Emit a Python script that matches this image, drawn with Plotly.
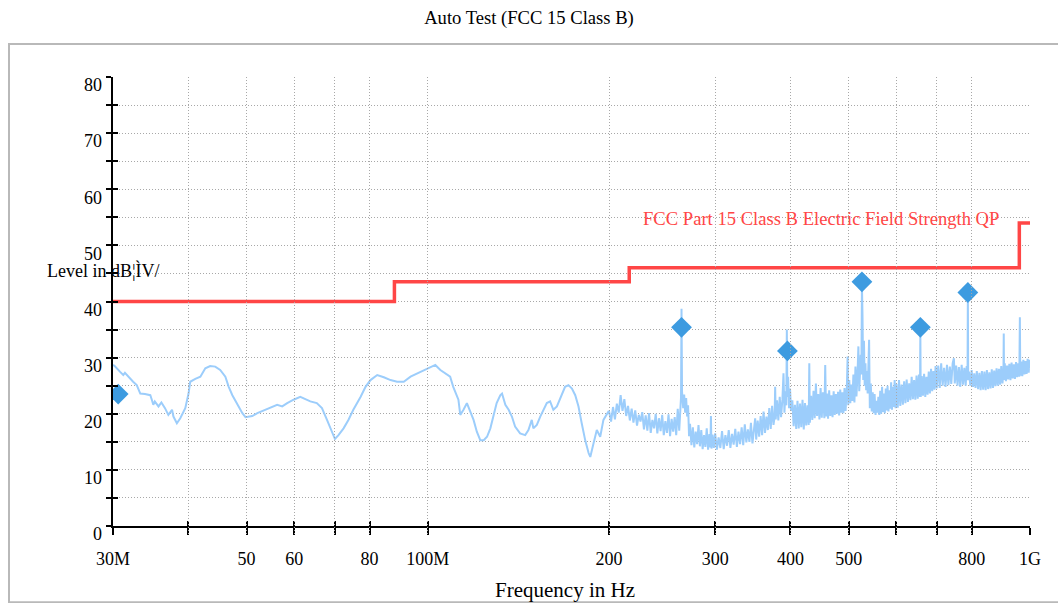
import math
import plotly.graph_objects as go

# ---------------- text ----------------
TITLE = "Auto Test (FCC 15 Class B)"
X_TITLE = "Frequency in Hz"
Y_TITLE = "Level in dB¦ÌV/"
LIMIT_NAME = "FCC Part 15 Class B Electric Field Strength QP"

# ---------------- data (frequency in MHz, level in dBµV/m) ----------------
scan_30_110 = [
    (30.0, 28.7), (30.2, 28.5), (30.8, 27.5), (31.2, 26.9), (31.4, 27.3), (31.8, 26.6),
    (32.4, 25.7), (32.85, 25.1), (33.3, 23.6), (33.9, 23.5), (34.6, 23.3), (34.8, 22.5),
    (35.0, 21.6), (35.2, 22.2), (35.7, 21.3), (36.1, 22.0), (36.6, 21.0), (37.07, 19.8),
    (37.6, 20.7), (37.8, 19.5), (38.3, 18.3), (38.8, 19.2), (39.55, 21.0), (40.05, 23.6),
    (40.3, 25.7), (41.1, 26.2), (41.9, 26.6), (42.7, 28.1), (43.5, 28.5), (44.35, 28.4),
    (45.2, 27.8), (46.1, 26.6), (46.7, 24.8), (47.35, 23.3), (48.3, 21.6), (49.2, 20.1),
    (49.8, 19.4), (51.1, 19.6), (52.1, 20.1), (53.5, 20.6), (54.8, 21.0), (56.2, 21.6),
    (57.3, 21.3), (58.4, 21.9), (59.85, 22.5), (61.4, 23.0), (62.6, 22.6), (63.8, 22.2),
    (65.4, 21.9), (66.7, 21.0), (68.0, 18.9), (69.3, 16.8), (70.1, 15.5), (71.05, 16.2),
    (72.45, 17.4), (73.8, 18.9), (75.2, 20.7), (77.3, 23.0), (78.8, 24.8), (80.3, 26.0),
    (82.4, 26.9), (84.5, 26.5), (86.7, 26.0), (88.9, 25.7), (91.2, 25.7), (93.6, 26.6),
    (96.0, 27.2), (97.8, 27.5), (100.2, 28.1), (102.9, 28.7), (104.9, 27.8), (106.9, 27.2),
    (108.9, 26.6),
]
scan_110_200 = [
    (110.2, 24.8), (111.7, 23.0), (112.4, 22.5), (113.2, 19.8), (114.6, 20.7), (116.1, 21.9),
    (117.6, 20.4), (119.1, 18.9), (120.6, 16.8), (122.2, 15.3), (123.8, 15.3), (125.4, 15.9),
    (127.0, 17.4), (128.4, 19.5), (130.1, 21.9), (131.9, 23.3), (132.8, 23.6), (134.5, 21.6),
    (136.2, 20.7), (137.9, 19.5), (139.6, 17.7), (142.3, 16.5), (145.1, 16.2), (146.9, 17.1),
    (148.8, 18.9), (149.7, 17.4), (151.7, 18.0), (153.7, 19.5), (155.6, 20.7), (157.6, 21.9),
    (159.6, 22.2), (161.6, 20.7), (163.8, 21.3), (167.0, 23.6), (169.0, 24.8), (171.2, 25.1),
    (173.5, 24.5), (175.7, 23.3), (177.9, 21.3), (180.1, 18.3), (182.5, 15.3), (184.9, 13.0),
    (186.1, 12.3), (188.4, 14.7), (190.8, 17.1), (193.3, 15.9), (195.7, 18.9), (199.5, 20.4),
]
scan_200_300 = [
    (200, 20.4), (201.5, 18.6), (203, 21.2), (204.5, 19.0), (206, 21.8), (207.5, 20.2),
    (209, 23.3), (210.5, 20.5), (212, 22.6), (213.5, 19.6), (215, 21.4), (216.5, 18.8),
    (218, 20.9), (219.5, 18.4), (221, 20.6), (222.5, 17.9), (224, 19.8), (225.5, 18.6),
    (227, 20.3), (228.5, 17.2), (230, 19.7), (231.5, 17.0), (233, 20.1), (234.5, 16.6),
    (236, 18.9), (237.5, 17.4), (239, 20.0), (240.5, 16.5), (242, 19.2), (243.5, 16.9),
    (245, 19.8), (246.5, 16.2), (248, 18.7), (249.5, 16.6), (251, 19.9), (252.5, 16.0),
    (254, 19.1), (255.5, 16.8), (257, 19.4), (258.5, 16.2), (260, 20.9), (261.5, 17.0),
    (262.6, 21.5), (263.3, 23.0), (263.8, 38.7), (264.3, 24.0), (265.5, 21.0), (266.5, 23.4),
    (267.5, 20.2), (268.5, 22.8), (269.5, 19.5), (270.5, 21.5), (271.5, 16.0), (272.5, 18.2),
    (274, 14.4), (275.5, 17.6), (277, 14.0), (278.5, 16.8), (280, 14.6), (281.5, 18.0),
    (283, 14.2), (284.5, 17.1), (286, 13.7), (287.5, 16.2), (289, 14.1), (290.5, 17.4),
    (292, 13.6), (293.5, 16.4), (294.6, 14.0), (295.2, 19.6), (295.8, 13.8), (297, 16.3),
    (298.5, 13.9),
]
scan_300_500 = [
    (300, 16.5), (302, 13.6), (304, 15.8), (306, 13.9), (308, 16.9), (310, 13.7), (312, 16.2),
    (314, 14.3), (316, 17.1), (318, 13.9), (320, 16.4), (322, 14.5), (324, 17.3), (326, 14.1),
    (328, 16.8), (330, 14.6), (332, 17.6), (334, 14.4), (336, 18.1), (338, 14.9), (340, 17.2),
    (342, 15.0), (344, 18.4), (346, 14.7), (348, 17.6), (349.6, 19.2), (351, 15.4), (353, 18.8),
    (355, 15.9), (357, 19.6), (359, 16.2), (361, 20.4), (363, 16.6), (365, 19.5), (367, 17.1),
    (369, 21.0), (371, 17.3), (373, 21.4), (375, 18.0), (376.6, 19.5), (377.4, 24.8),
    (378.2, 19.0), (380, 22.4), (382, 18.8), (384, 23.0), (386, 19.4), (388, 22.6),
    (389.6, 27.2), (391, 20.2), (392.5, 24.0), (393.8, 21.5), (394.6, 35.0), (395.4, 23.0),
    (396.5, 26.6), (398, 21.0), (399.5, 24.5), (401, 20.5), (403, 22.4), (405, 17.8),
    (407, 21.6), (409, 17.3), (411, 22.3), (413, 17.4), (415, 21.8), (417, 17.6), (419, 22.5),
    (421, 17.2), (423, 21.9), (425, 17.9), (427, 21.5), (429, 18.0), (430, 29.0), (431, 18.4),
    (433, 23.2), (435, 18.9), (437, 24.1), (439, 19.2), (441, 25.4), (443, 19.6), (445, 23.5),
    (447, 19.0), (449, 24.6), (451, 19.3), (453, 23.8), (455.5, 19.2), (457, 28.7),
    (458.5, 19.5), (460, 23.6), (462, 19.1), (464, 24.2), (466, 19.6), (468, 23.3), (470, 19.4),
    (472, 24.0), (474, 19.8), (476, 23.5), (478, 20.0), (480, 23.9), (482, 19.7), (484, 24.3),
    (486, 20.2), (488, 23.8), (490, 20.1), (492, 24.6), (494, 20.5), (496.5, 25.0),
    (497.9, 30.2), (499, 21.5),
]
scan_500_700 = [
    (501, 26.0), (503, 21.9), (505, 25.2), (507, 22.3), (509, 27.0), (511, 22.0), (513, 28.4),
    (515, 23.1), (517, 27.0), (518.8, 32.0), (520.5, 24.0), (522, 28.0), (523.5, 30.5),
    (524.8, 27.0), (525.9, 43.0), (527, 37.6), (528.5, 26.0), (530, 33.0), (531.5, 25.0),
    (533, 29.0), (534.5, 24.2), (536, 27.6), (537.5, 23.6), (539, 28.5), (540.5, 33.2),
    (542, 21.0), (544, 25.4), (546, 20.4), (548, 23.8), (550, 20.1), (552, 23.5), (554, 19.8),
    (556, 22.3), (558, 20.2), (560, 23.0), (562, 19.8), (564, 24.1), (566, 20.0), (568, 24.8),
    (570, 20.3), (572, 23.6), (574, 20.1), (576, 24.5), (578, 20.6), (580, 25.0), (582, 20.4),
    (584, 24.2), (586, 20.9), (588, 25.6), (590, 20.7), (592, 24.8), (594, 21.2), (596, 26.0),
    (598, 21.0), (600, 25.3), (603, 21.1), (606, 26.0), (609, 21.4), (612, 25.2), (615, 21.6),
    (618, 25.8), (621, 21.9), (624, 26.1), (627, 22.1), (630, 25.4), (633, 22.4), (636, 26.6),
    (639, 22.6), (642, 26.0), (645, 22.5), (648, 26.8), (651, 22.7), (654, 27.0),
    (656.5, 23.0), (657.5, 34.5), (658.5, 23.0), (661, 26.7), (664, 23.2), (667, 27.1),
    (670, 23.0), (673, 26.6), (676, 23.4), (679, 27.5), (682, 23.6), (685, 28.0), (688, 24.0),
    (691, 27.6), (694, 24.3), (697, 28.5),
]
scan_700_1000 = [
    (700, 24.5), (704, 28.6), (708, 24.6), (712, 29.0), (716, 25.0), (720, 28.2), (724, 24.8),
    (728, 28.7), (732, 25.1), (736, 28.4), (740, 25.3), (744, 29.0), (747.5, 29.9), (750, 25.4),
    (754, 28.6), (758, 25.0), (762, 28.3), (766, 24.8), (770, 28.7), (774, 25.2), (778, 28.2),
    (782, 25.0), (785, 28.5), (787.5, 26.0), (788.5, 41.5), (789.5, 26.0), (792, 27.5),
    (796, 25.0), (800, 27.8), (804, 24.8), (808, 27.2), (812, 24.6), (816, 27.6), (820, 24.4),
    (824, 27.3), (828, 24.2), (832, 27.6), (836, 24.3), (840, 27.5), (844, 24.2), (848, 27.8),
    (852, 24.4), (856, 27.4), (860, 24.5), (864, 27.9), (868, 24.6), (872, 27.7), (876, 24.9),
    (880, 28.1), (884, 25.0), (888, 28.0), (892, 25.2), (896, 28.5), (900, 25.4),
    (903.5, 27.5), (904.5, 34.3), (905.5, 26.0), (908, 29.0), (912, 25.8), (916, 28.6),
    (920, 26.1), (924, 28.9), (928, 26.0), (932, 29.1), (936, 26.3), (940, 28.8), (944, 26.2),
    (948, 29.2), (952, 26.5), (956, 29.0), (960, 26.6), (962, 37.2), (963.5, 26.8), (967, 29.3),
    (971, 26.7), (975, 29.6), (979, 27.0), (983, 29.4), (987, 27.1), (991, 29.8), (995, 27.3),
    (998, 29.6), (1000, 28.0),
]

peak_freq_mhz = [30.6, 263.8, 395.5, 525.9, 657.5, 788.5]
peak_level = [23.5, 35.4, 31.2, 43.5, 35.4, 41.6]

limit_freq_mhz = [30, 88, 216, 960, 1000]
limit_level = [40, 43.5, 46, 54, 54]

x_tick_vals = [30, 40, 50, 60, 70, 80, 100, 200, 300, 400, 500, 600, 700, 800, 1000]
x_tick_text = ["30M", "", "50", "60", "", "80", "100M", "200", "300", "400", "500", "", "", "800", "1G"]
y_tick_vals = [0, 5, 10, 15, 20, 25, 30, 35, 40, 45, 50, 55, 60, 65, 70, 75, 80]
y_label_vals = [0, 10, 20, 30, 40, 50, 60, 70, 80]
y_label_text = ["0", "10", "20", "30", "40", "50", "60", "70", "80"]

# ---------------- build ----------------
scan = scan_30_110 + scan_110_200 + scan_200_300 + scan_300_500 + scan_500_700 + scan_700_1000
scan_freq = [p[0] for p in scan]
scan_level = [p[1] for p in scan]

FONT = "Liberation Serif, Times New Roman, serif"
W, H = 1058, 603
L, R, T, B = 113, 28, 77, 69          # plot area 113..1030 x 77..534
PW, PH = W - L - R, H - T - B
LABEL_DROP = 8                          # y tick labels sit 8 px below their tick


def px(xp):
    return (xp - L) / PW


def py(yp):
    return (H - B - yp) / PH


fig = go.Figure()
fig.add_trace(go.Scatter(x=scan_freq, y=scan_level, mode="lines",
                         line=dict(color="#9ccdfb", width=2), hoverinfo="skip", showlegend=False))
fig.add_trace(go.Scatter(x=limit_freq_mhz, y=limit_level, mode="lines",
                         line=dict(color="#ff4646", width=3.5, shape="hv"), showlegend=False))
fig.add_trace(go.Scatter(x=peak_freq_mhz, y=peak_level, mode="markers",
                         marker=dict(symbol="diamond", size=16, color="#3d9be0"), showlegend=False))
# carriers for the helper axes (inside tick marks, shifted labels)
fig.add_trace(go.Scatter(x=[], y=[], xaxis="x2", yaxis="y2", showlegend=False))
fig.add_trace(go.Scatter(x=[], y=[], xaxis="x", yaxis="y3", showlegend=False))

xr = [math.log10(30), math.log10(1000)]
main_dom_bottom = LABEL_DROP / PH
y3_top = 80 * PH / (PH - LABEL_DROP)

GRID = "#a8a8a8"
tickfont = dict(family=FONT, size=18, color="black")
fig.update_layout(
    width=W, height=H, autosize=False,
    margin=dict(l=L, r=R, t=T, b=B, pad=0),
    paper_bgcolor="white", plot_bgcolor="rgba(0,0,0,0)",
    font=dict(family=FONT, size=18, color="black"),
    title=dict(text=TITLE, x=0.5, xanchor="center", y=1 - 17 / H, yanchor="middle",
               font=dict(family=FONT, size=18.6, color="black")),
    xaxis=dict(type="log", range=xr, tickmode="array", tickvals=x_tick_vals, ticktext=x_tick_text,
               ticks="outside", ticklen=7, tickwidth=2, tickcolor="black",
               showline=True, linecolor="black", linewidth=2, zeroline=False,
               showgrid=True, gridcolor=GRID, gridwidth=1, griddash="1px,2px",
               tickfont=tickfont, ticklabelstandoff=8, anchor="y"),
    xaxis2=dict(type="log", range=xr, overlaying="x", anchor="y", tickmode="array",
                tickvals=x_tick_vals, ticks="inside", ticklen=5, tickwidth=2, tickcolor="black",
                showticklabels=False, showgrid=False, showline=False, zeroline=False),
    yaxis=dict(range=[0, 80], domain=[main_dom_bottom, 1], tickmode="array", tickvals=y_tick_vals,
               ticks="outside", ticklen=5, tickwidth=2, tickcolor="black", showticklabels=False,
               showline=True, linecolor="black", linewidth=2, zeroline=False,
               showgrid=True, gridcolor=GRID, gridwidth=1, griddash="1px,2px", anchor="x"),
    yaxis2=dict(range=[0, 80], overlaying="y", anchor="x", tickmode="array", tickvals=y_tick_vals,
                ticks="inside", ticklen=5, tickwidth=2, tickcolor="black", showticklabels=False,
                showgrid=False, showline=False, zeroline=False),
    yaxis3=dict(range=[0, y3_top], domain=[0, 1], anchor="x", tickmode="array",
                tickvals=y_label_vals, ticktext=y_label_text, ticks="", showgrid=False,
                showline=False, zeroline=False, tickfont=tickfont, ticklabelstandoff=10),
    annotations=[
        dict(text=Y_TITLE, xref="paper", yref="paper", x=px(103.7), y=py(270.5),
             xanchor="center", yanchor="middle", showarrow=False,
             font=dict(family=FONT, size=18, color="black")),
        dict(text=X_TITLE, xref="paper", yref="paper", x=px(565), y=py(589.7),
             xanchor="center", yanchor="middle", showarrow=False,
             font=dict(family=FONT, size=21, color="black")),
        dict(text=LIMIT_NAME, xref="paper", yref="paper", x=px(821), y=py(218),
             xanchor="center", yanchor="middle", showarrow=False,
             font=dict(family=FONT, size=18.6, color="#ff4646")),
    ],
    shapes=[dict(type="rect", xref="paper", yref="paper", x0=px(9), x1=px(1070),
                 y0=py(602.3), y1=py(44), line=dict(color="#b9b9b9", width=2),
                 fillcolor="rgba(0,0,0,0)", layer="below")],
)

fig.write_html("out.html")
